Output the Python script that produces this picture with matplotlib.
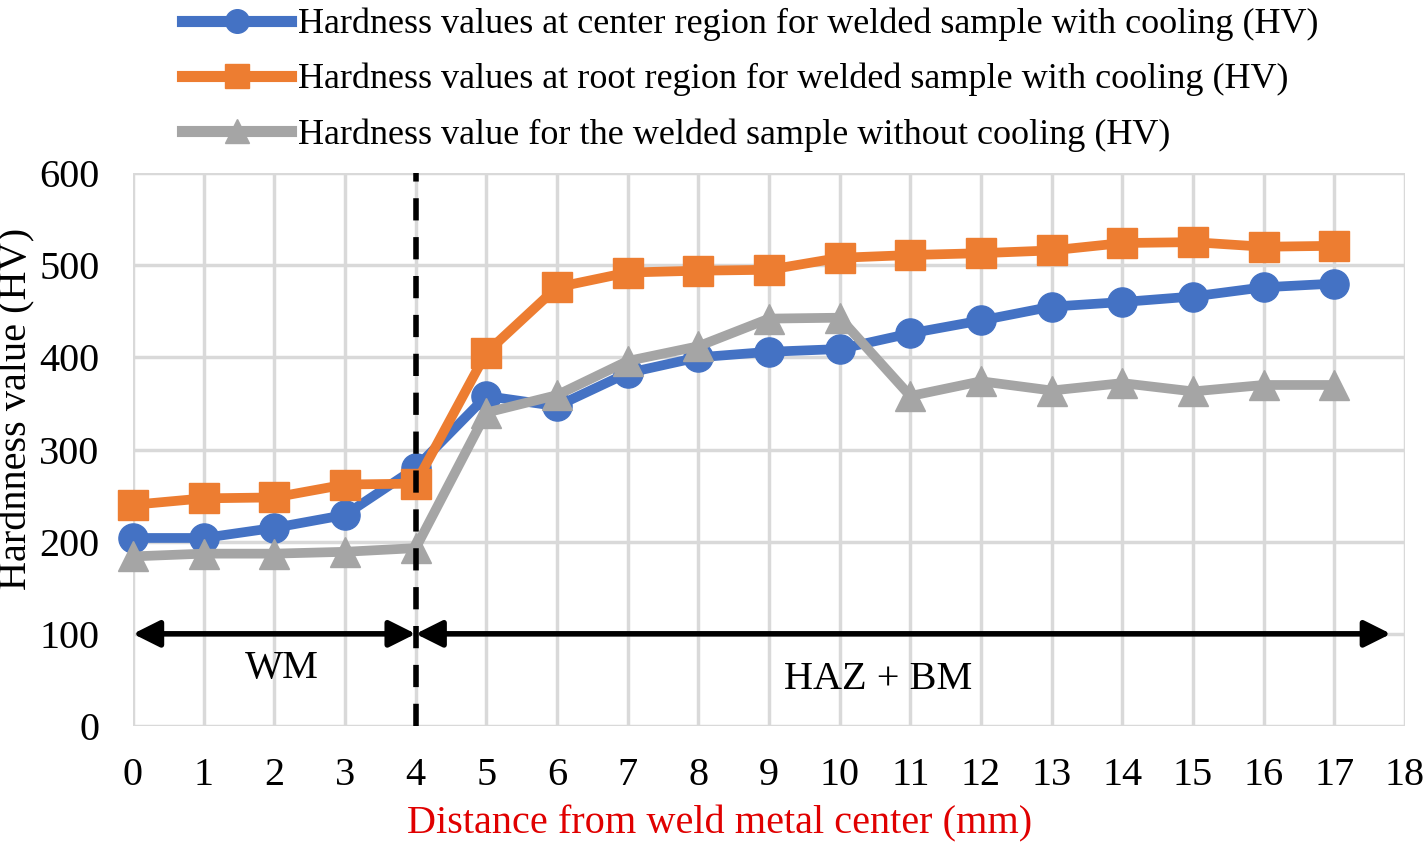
import matplotlib.pyplot as plt
from matplotlib.lines import Line2D

plt.rcParams['font.family'] = ['Liberation Serif', 'DejaVu Serif']

distance = list(range(18))
center_cooling = [204, 204, 215, 229, 280, 358, 347, 383, 400, 406, 409,
                  426, 440, 455, 460, 466, 476, 480]
root_cooling = [240, 247, 248, 262, 263, 405, 476, 492, 494, 495, 508,
                511, 513, 516, 524, 525, 520, 521]
no_cooling = [184, 187, 187, 189, 193, 340, 359, 396, 412, 442, 443,
              358, 374, 364, 372, 363, 370, 370]

labels = [
    "Hardness values at center region for welded sample with cooling (HV)",
    "Hardness values at root region for welded sample with cooling (HV)",
    "Hardness value for the welded sample without cooling (HV)",
]
colors = ['#4472c4', '#ed7d31', '#a5a5a5']
markers = ['o', 's', '^']

fig = plt.figure(figsize=(14.23, 8.44), dpi=100)
ax = fig.add_axes([133 / 1423, 1 - 726 / 844, (1405 - 133) / 1423, (726 - 173) / 844])

series = [center_cooling, root_cooling, no_cooling]
for vals, c, m in zip(series, colors, markers):
    ax.plot(distance, vals, color=c, marker=m, lw=7, markersize=21, zorder=3,
            clip_on=False)

ax.set_xlim(0, 18)
ax.set_ylim(0, 600)
ax.set_xticks(range(0, 19))
ax.set_yticks(range(0, 601, 100))
ax.grid(True, color='#d9d9d9', lw=2.5, zorder=0)
ax.set_axisbelow(True)
for s in ax.spines.values():
    s.set_visible(False)
ax.tick_params(length=0, labelsize=29)
ax.tick_params(axis='x', pad=22)
ax.tick_params(axis='y', pad=24)

# WM / HAZ boundary
ax.axvline(4, color='black', lw=4, ls=(0, (4, 3)), zorder=4)
ax.annotate('', xy=(0, 100), xytext=(4, 100),
            arrowprops=dict(arrowstyle='<|-|>', lw=4, color='black',
                            mutation_scale=40, shrinkA=0, shrinkB=0))
ax.annotate('', xy=(4, 100), xytext=(17.8, 100),
            arrowprops=dict(arrowstyle='<|-|>', lw=4, color='black',
                            mutation_scale=40, shrinkA=0, shrinkB=0))
ax.text(2.1, 62, 'WM', fontsize=29, ha='center', va='center')
ax.text(10.55, 50, 'HAZ + BM', fontsize=29, ha='center', va='center')

ax.set_xlabel('Distance from weld metal center (mm)', fontsize=29,
              color='#e00000')
ax.xaxis.set_label_coords(0.461, -0.143)
ax.set_ylabel('Hardnness value (HV)', fontsize=29)
ax.yaxis.set_label_coords(-0.077, 0.573)

handles = [Line2D([], [], color=c, marker=m, lw=8, markersize=17)
           for c, m in zip(colors, markers)]
fig.legend(handles, labels, loc='upper left', bbox_to_anchor=(168 / 1423, 1.008),
           frameon=False, fontsize=26, handlelength=3.0, handletextpad=0.2,
           labelspacing=0.6, borderaxespad=0)

fig.savefig('out.png', dpi=100)
